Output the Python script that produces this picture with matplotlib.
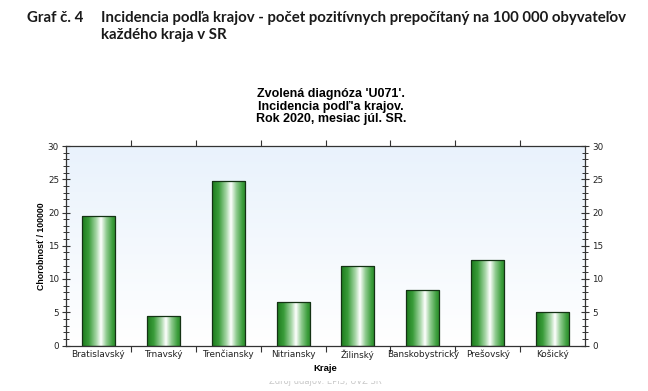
import numpy as np
import matplotlib
matplotlib.use("Agg")
import matplotlib.pyplot as plt
from matplotlib.colors import LinearSegmentedColormap
from matplotlib.ticker import MultipleLocator, FixedLocator
from matplotlib.transforms import Bbox

# ---- data ----
regions = ["Bratislavský", "Trnavský", "Trenčiansky", "Nitriansky",
           "Žilinský", "Banskobystrický", "Prešovský", "Košický"]
incidence = [19.5, 4.4, 24.8, 6.6, 11.9, 8.3, 12.8, 5.0]
y_ticks = [0, 5, 10, 15, 20, 25, 30]

header_label = "Graf č. 4"
header_text = ("Incidencia podľa krajov - počet pozitívnych prepočítaný na 100 000 obyvateľov\n"
               "každého kraja v SR")
chart_title = "Zvolená diagnóza 'U071'.\nIncidencia podľ'a krajov.\nRok 2020, mesiac júl. SR."

fig = plt.figure(figsize=(6.48, 3.91), dpi=100)
fig.patch.set_facecolor("white")

W, H = 648, 391
ax = fig.add_axes([66 / W, 1 - 345.5 / H, (585 - 66) / W, (345.5 - 146) / H])

n = len(regions)
x = np.arange(n)

# background gradient
bg_cmap = LinearSegmentedColormap.from_list("bg", ["#ffffff", "#e9f2fc"])
ax.imshow(np.linspace(0, 1, 256).reshape(-1, 1), cmap=bg_cmap, aspect="auto",
          extent=(-0.5, n - 0.5, 0, 30), origin="lower", zorder=0)

# bars with horizontal gradient
bar_cmap = LinearSegmentedColormap.from_list(
    "bar", [(0.0, "#1c7a1c"), (0.2, "#3a9c3a"), (0.42, "#a6d6a6"),
            (0.56, "#ffffff"), (0.72, "#8fcb8f"), (0.9, "#3c9e3c"), (1.0, "#2a862a")])
grad = np.linspace(0, 1, 256).reshape(1, -1)
bw = 0.51
bars = ax.bar(x, incidence, width=bw, color="none", edgecolor="#143214",
              linewidth=0.9, zorder=3)
for b in bars:
    x0, y0 = b.get_x(), b.get_y()
    w, h = b.get_width(), b.get_height()
    ax.imshow(grad, cmap=bar_cmap, aspect="auto",
              extent=(x0, x0 + w, y0, y0 + h), zorder=2)
ax.set_xlim(-0.5, n - 0.5)
ax.set_ylim(0, 30)

# spines
for s in ax.spines.values():
    s.set_color("#333333")
    s.set_linewidth(0.9)

tick_font = "DejaVu Sans"

# x ticks: boundaries as ticks, centers as labels
ax.xaxis.set_major_locator(FixedLocator(np.arange(0.5, n - 0.5, 1.0)))
ax.xaxis.set_minor_locator(FixedLocator(x))
ax.set_xticklabels([], minor=False)
ax.set_xticklabels(regions, minor=True, family=tick_font)
ax.tick_params(axis="x", which="major", direction="out", length=4, width=0.8,
               color="#333333", top=True, bottom=True)
ax.tick_params(axis="x", which="minor", length=0, labelsize=6.4, pad=3,
               labelcolor="#222222")

# y ticks
ax.set_yticks(y_ticks)
ax.yaxis.set_minor_locator(MultipleLocator(1))
ax.tick_params(axis="y", which="major", direction="inout", length=6, width=0.8,
               labelsize=6.3, left=True, right=True, labelleft=True, labelright=True,
               color="#333333", labelcolor="#222222", pad=2)
ax.tick_params(axis="y", which="minor", direction="inout", length=4, width=0.7,
               left=True, right=True, color="#333333")
for lab in ax.yaxis.get_ticklabels(which="both"):
    lab.set_family(tick_font)

ax.set_ylabel("Chorobnosť / 100000", fontsize=6.3, fontweight="bold", labelpad=1,
              family="Liberation Sans")
ax.set_xlabel("Kraje", fontsize=6.8, fontweight="bold", labelpad=3,
              family="Liberation Sans")

# chart title
fig.text(331 / W, 1 - 88 / H, chart_title, ha="center", va="top", fontsize=9.0,
         fontweight="bold", family="Liberation Sans", linespacing=1.08)

# header
fig.text(27 / W, 1 - 11 / H, header_label, ha="left", va="top", fontsize=10.8,
         fontweight="bold", family="Lato", color="#1a1a1a")
fig.text(101 / W, 1 - 11 / H, header_text, ha="left", va="top", fontsize=10.8,
         fontweight="bold", family="Lato", color="#1a1a1a", linespacing=1.3)

# source footnote (partly cut off as in the reference)
foot = fig.text(325 / W, 1 - 376 / H, "Zdroj údajov: EPIS, ÚVZ SR", ha="center", va="top",
                fontsize=6, color="#c8c8c8", family="DejaVu Sans")
foot.set_clip_box(Bbox.from_extents(0, 0, W, H - 381))
foot.set_clip_on(True)

fig.savefig("out.png", dpi=100)
